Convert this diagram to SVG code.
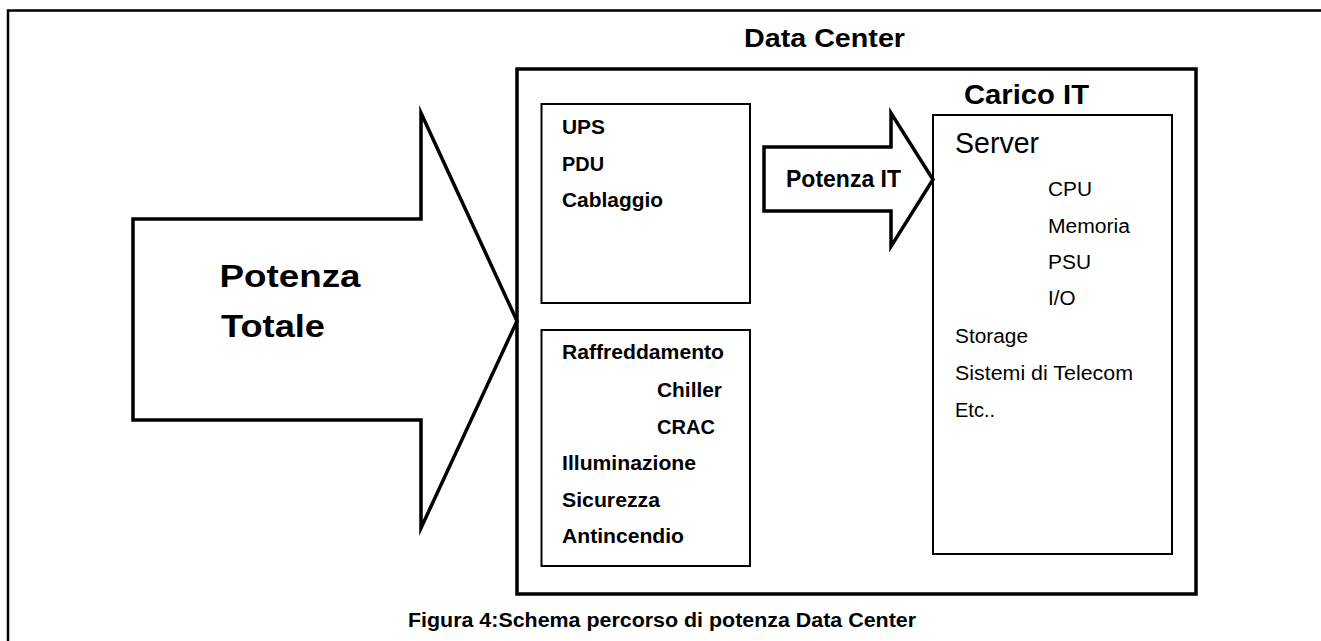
<svg xmlns="http://www.w3.org/2000/svg" width="1321" height="641" viewBox="0 0 1321 641">
<style>
text{font-family:"Liberation Sans",Arial,sans-serif;fill:#000}
.b{font-weight:bold}
.box{fill:#fff;stroke:#000;stroke-width:2}
.thick{fill:none;stroke:#000;stroke-width:3.5}
.arrow{fill:#fff;stroke:#000;stroke-width:3.5;stroke-linejoin:miter;stroke-miterlimit:10}
.s20{font-size:20px}
.s21{font-size:21px}
</style>
<rect width="1321" height="641" fill="#fff"/>
<g id="frame">
<rect x="8" y="10.5" width="1330" height="660" fill="none" stroke="#000" stroke-width="2.5"/>
</g>
<g id="datacenter">
<rect class="thick" x="517" y="69" width="679" height="525"/>
<text class="b" x="744" y="47" font-size="25" textLength="161" lengthAdjust="spacingAndGlyphs">Data Center</text>
</g>
<g id="box-distribuzione">
<rect class="box" x="541.5" y="104" width="208.5" height="199"/>
<text class="b s21" x="562" y="134" textLength="43" lengthAdjust="spacingAndGlyphs">UPS</text>
<text class="b s21" x="562" y="170.5" textLength="42" lengthAdjust="spacingAndGlyphs">PDU</text>
<text class="b s21" x="562" y="207" textLength="101" lengthAdjust="spacingAndGlyphs">Cablaggio</text>
</g>
<g id="box-supporto">
<rect class="box" x="541.5" y="330" width="208.5" height="236"/>
<text class="b s20" x="562" y="359" textLength="162" lengthAdjust="spacingAndGlyphs">Raffreddamento</text>
<text class="b s20" x="657" y="396.5" textLength="65" lengthAdjust="spacingAndGlyphs">Chiller</text>
<text class="b s20" x="657" y="433.5" textLength="58" lengthAdjust="spacingAndGlyphs">CRAC</text>
<text class="b s20" x="562" y="470" textLength="134" lengthAdjust="spacingAndGlyphs">Illuminazione</text>
<text class="b s20" x="562" y="506.5" textLength="98" lengthAdjust="spacingAndGlyphs">Sicurezza</text>
<text class="b s20" x="562" y="543" textLength="122" lengthAdjust="spacingAndGlyphs">Antincendio</text>
</g>
<g id="carico-it">
<rect class="box" x="933" y="115" width="239" height="439"/>
<text class="b" x="964" y="104" font-size="27" textLength="125" lengthAdjust="spacingAndGlyphs">Carico IT</text>
<text x="955" y="153" font-size="29" textLength="84" lengthAdjust="spacingAndGlyphs">Server</text>
<text class="s20" x="1048" y="196" textLength="44" lengthAdjust="spacingAndGlyphs">CPU</text>
<text class="s20" x="1048" y="232.5" textLength="82" lengthAdjust="spacingAndGlyphs">Memoria</text>
<text class="s20" x="1048" y="269" textLength="43" lengthAdjust="spacingAndGlyphs">PSU</text>
<text class="s20" x="1048" y="305" textLength="27.5" lengthAdjust="spacingAndGlyphs">I/O</text>
<text class="s20" x="955" y="342.5" textLength="73" lengthAdjust="spacingAndGlyphs">Storage</text>
<text class="s20" x="955" y="380" textLength="178" lengthAdjust="spacingAndGlyphs">Sistemi di Telecom</text>
<text class="s20" x="955" y="416.5" textLength="40" lengthAdjust="spacingAndGlyphs">Etc..</text>
</g>
<g id="connectors">
<g id="arrow-potenza-totale">
<polygon class="arrow" points="133,219 421,219 421,113 517,321 421,528 421,420 133,420"/>
<text class="b" x="219.5" y="286.5" font-size="32" textLength="141" lengthAdjust="spacingAndGlyphs">Potenza</text>
<text class="b" x="221" y="336.5" font-size="32" textLength="104" lengthAdjust="spacingAndGlyphs">Totale</text>
</g>
<g id="arrow-potenza-it">
<polygon class="arrow" points="764,147 891,147 891,113 933,179.5 891,246.5 891,211 764,211"/>
<text class="b" x="786" y="187" font-size="23" textLength="115" lengthAdjust="spacingAndGlyphs">Potenza IT</text>
</g>
</g>
<g id="caption">
<text class="b" x="408" y="627" font-size="19.5" textLength="508" lengthAdjust="spacingAndGlyphs">Figura 4:Schema percorso di potenza Data Center</text>
</g>
</svg>
